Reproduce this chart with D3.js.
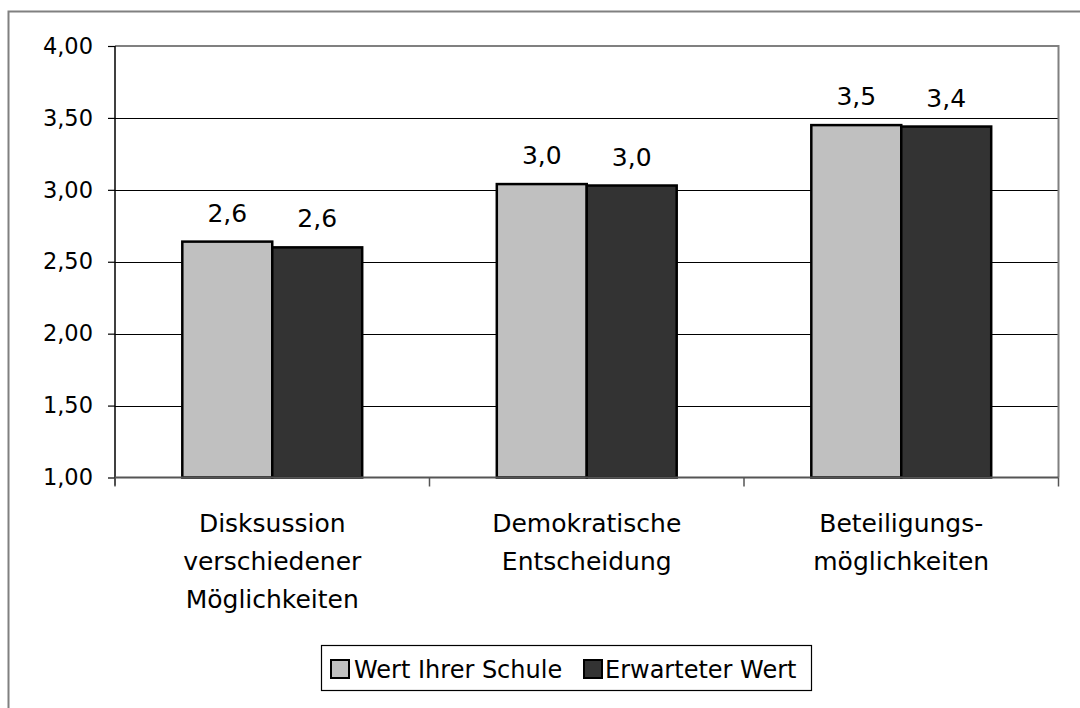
<!DOCTYPE html>
<html>
<head>
<meta charset="utf-8">
<script src="https://cdn.jsdelivr.net/npm/d3@7"></script>
<style>
  html, body { margin: 0; padding: 0; background: #fff; }
  svg { display: block; }
  text { font-family: "DejaVu Sans", Verdana, sans-serif; fill: #000; }
</style>
</head>
<body>
<svg id="chart" width="1080" height="708"></svg>
<script>
// ---- data ----
const categories = [
  ["Disksussion", "verschiedener", "Möglichkeiten"],
  ["Demokratische", "Entscheidung"],
  ["Beteiligungs-", "möglichkeiten"]
];
const seriesNames = ["Wert Ihrer Schule", "Erwarteter Wert"];
const schoolValues = [2.64, 3.04, 3.45];
const expectedValues = [2.60, 3.03, 3.44];
const yTicks = [1.0, 1.5, 2.0, 2.5, 3.0, 3.5, 4.0];
const seriesColors = ["#C0C0C0", "#333333"];

// ---- layout ----
const svg = d3.select("#chart");
const plot = { left: 115, right: 1058.5, top: 46, bottom: 477.5 };

// outer frame (extends past the bottom/right edges)
svg.append("rect")
  .attr("x", 8.5).attr("y", 11.5)
  .attr("width", 1100).attr("height", 720)
  .attr("fill", "#fff").attr("stroke", "#808080").attr("stroke-width", 2);

const catIdx = categories.map((c, i) => i);
const x = d3.scaleBand().domain(catIdx).range([plot.left, plot.right])
  .paddingInner(0.428).paddingOuter(0.214);
const xStep = (plot.right - plot.left) / categories.length;
const xCat = d3.scaleBand().domain(catIdx).range([plot.left, plot.right]);
const xSub = d3.scaleBand().domain([0, 1]).range([0, x.bandwidth()]);
const y = d3.scaleLinear().domain([1, 4]).range([plot.bottom, plot.top]);

// gridlines
svg.append("g")
  .selectAll("line")
  .data(yTicks.filter(t => t > 1 && t < 4))
  .join("line")
  .attr("x1", plot.left).attr("x2", plot.right)
  .attr("y1", d => Math.round(y(d)) + 0.5).attr("y2", d => Math.round(y(d)) + 0.5)
  .attr("stroke", "#000").attr("stroke-width", 1.2);

// plot area border (top & right grey)
svg.append("path")
  .attr("d", `M${plot.left},${plot.top}H${plot.right}V${plot.bottom}`)
  .attr("fill", "none").attr("stroke", "#808080").attr("stroke-width", 2);

// bars
const seriesData = [schoolValues, expectedValues];
const barData = [];
catIdx.forEach(i => {
  seriesData.forEach((vals, s) => barData.push({ i, s, v: vals[i] }));
});
svg.append("g")
  .selectAll("rect")
  .data(barData)
  .join("rect")
  .attr("x", d => x(d.i) + xSub(d.s))
  .attr("y", d => y(d.v))
  .attr("width", xSub.bandwidth())
  .attr("height", d => y(1) - y(d.v))
  .attr("fill", d => seriesColors[d.s])
  .attr("stroke", "#000").attr("stroke-width", 2.5);

// data labels
const fmt = v => d3.format(".1f")(v).replace(".", ",");
svg.append("g")
  .selectAll("text")
  .data(barData)
  .join("text")
  .attr("x", d => x(d.i) + xSub(d.s) + xSub.bandwidth() / 2)
  .attr("y", d => y(d.v) - 20)
  .attr("text-anchor", "middle")
  .attr("font-size", 25)
  .text(d => fmt(d.v));

// y axis
const yAxis = d3.axisLeft(y).tickValues(yTicks).tickSize(7).tickPadding(15)
  .tickFormat(d => d3.format(".2f")(d).replace(".", ","));
const gy = svg.append("g").attr("transform", `translate(${plot.left},0)`).call(yAxis);
gy.select(".domain").attr("stroke", "#000").attr("stroke-width", 1.5)
  .attr("d", `M0,${plot.top}V${plot.bottom + 8}`);
gy.selectAll(".tick line").attr("stroke", "#000").attr("stroke-width", 1.2);
gy.selectAll(".tick text").attr("font-size", 22.5).attr("font-family", "DejaVu Sans").attr("fill", "#000");

// x axis (category ticks between groups)
const xAxis = d3.axisBottom(xCat).tickSize(0).tickFormat("");
const gx = svg.append("g").attr("transform", `translate(0,${plot.bottom})`).call(xAxis);
gx.select(".domain").attr("stroke", "#555").attr("stroke-width", 2)
  .attr("d", `M${plot.left},0H${plot.right}`);
// separators
const seps = d3.range(categories.length + 1).map(k => plot.left + k * xStep);
gx.selectAll("line.sep").data(seps).join("line").attr("class", "sep")
  .attr("x1", d => d).attr("x2", d => d).attr("y1", 0).attr("y2", 9)
  .attr("stroke", "#555").attr("stroke-width", 1.5);

// category labels
const catG = svg.append("g");
catIdx.forEach(i => {
  const t = catG.append("text")
    .attr("x", xCat(i) + xCat.bandwidth() / 2)
    .attr("y", 532)
    .attr("text-anchor", "middle")
    .attr("font-size", 25);
  categories[i].forEach((line, k) => {
    t.append("tspan").attr("x", xCat(i) + xCat.bandwidth() / 2)
      .attr("dy", k === 0 ? 0 : 38).text(line);
  });
});

// legend
const lg = svg.append("g");
lg.append("rect").attr("x", 321.5).attr("y", 645.5).attr("width", 490).attr("height", 45)
  .attr("fill", "#fff").attr("stroke", "#000").attr("stroke-width", 1.2);
const legendItems = [
  { name: seriesNames[0], color: seriesColors[0], sx: 331, tx: 354 },
  { name: seriesNames[1], color: seriesColors[1], sx: 584, tx: 605 }
];
lg.selectAll("rect.sw").data(legendItems).join("rect").attr("class", "sw")
  .attr("x", d => d.sx).attr("y", 660).attr("width", 18).attr("height", 18)
  .attr("fill", d => d.color).attr("stroke", "#000").attr("stroke-width", 2);
lg.selectAll("text").data(legendItems).join("text")
  .attr("x", d => d.tx).attr("y", 678).attr("font-size", 24)
  .text(d => d.name);
</script>
</body>
</html>
